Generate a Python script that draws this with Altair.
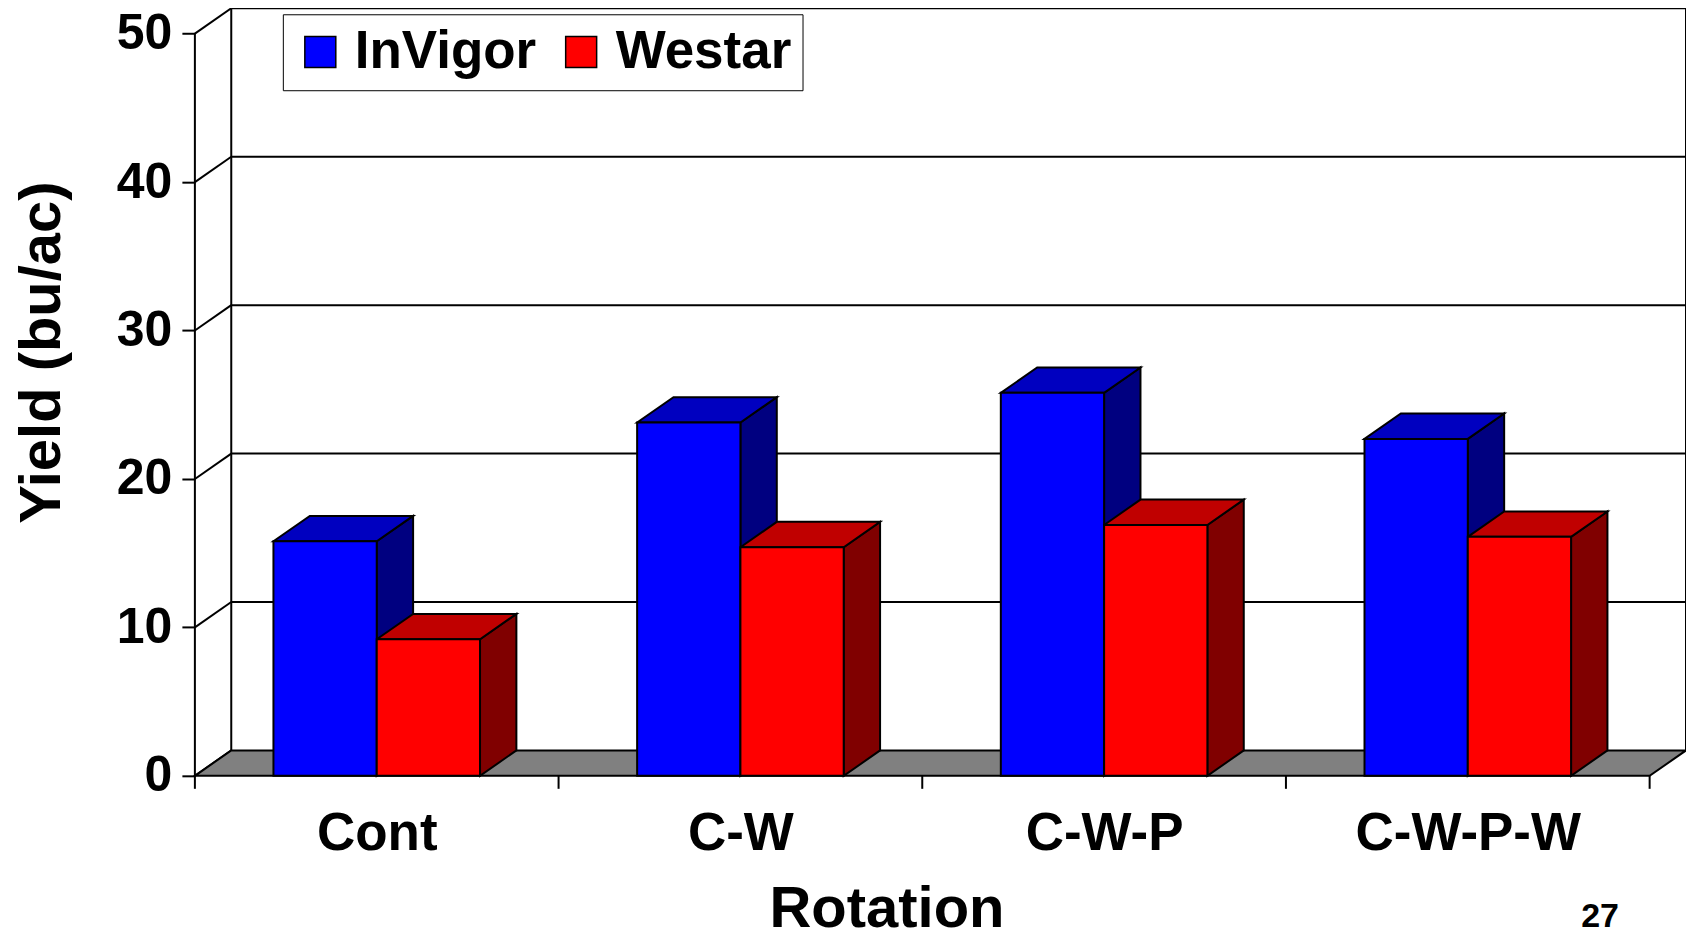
import json
import altair as alt
import pandas as pd

# ---------------- data ----------------
rotations = ["Cont", "C-W", "C-W-P", "C-W-P-W"]
series_names = ["InVigor", "Westar"]
invigor = [15.8, 23.8, 25.8, 22.7]
westar = [9.2, 15.4, 16.9, 16.1]
y_ticks = [0, 10, 20, 30, 40, 50]
group_edges = [0, 1, 2, 3, 4]

front_colors = ["#0000FF", "#FF0000"]
top_colors = ["#0000C0", "#C00000"]
side_colors = ["#000080", "#800000"]

# ---------------- 3-D geometry (in data units) ----------------
DX = 0.1      # depth offset along x (group units)
DY = 1.71     # depth offset along y (bu/ac)
BAR_W = 0.284
N = len(rotations)
YTOP = 50
XMAX = N + DX
YMAX = YTOP + DY
FONT = "Liberation Sans"

W, H = 1492, 768

front_rows, top_rows, side_rows = [], [], []
for gi, rot in enumerate(rotations):
    for si, (name, vals) in enumerate(zip(series_names, [invigor, westar])):
        v = vals[gi]
        x0 = gi + 0.5 - BAR_W + si * BAR_W
        x1 = x0 + BAR_W
        bar_id = f"{rot}|{name}"
        front_rows.append(dict(x=x0, x2=x1, y=0, y2=v, series=name))
        for xx, up, lo in [(x0, v, v), (x0 + DX, v + DY, v),
                           (x1, v + DY, v), (x1 + DX, v + DY, v + DY)]:
            top_rows.append(dict(bar=bar_id, x=xx, y=up, y2=lo, fill=top_colors[si]))
        for xx, up, lo in [(x1, v, 0), (x1 + DX, v + DY, DY)]:
            side_rows.append(dict(bar=bar_id, x=xx, y=up, y2=lo, fill=side_colors[si]))

front_df = pd.DataFrame(front_rows)
top_df = pd.DataFrame(top_rows)
side_df = pd.DataFrame(side_rows)

floor_df = pd.DataFrame({
    "x": [0, DX, N, N + DX],
    "y": [0, DY, DY, DY],
    "y2": [0, 0, 0, DY],
})

# back-wall gridlines
hl_df = pd.DataFrame({
    "x": [DX] * 5,
    "x2": [XMAX] * 5,
    "y": [v + DY for v in y_ticks[1:]],
})
# left-wall diagonals
diag_df = pd.DataFrame({
    "x": [0] * len(y_ticks),
    "x2": [DX] * len(y_ticks),
    "y": y_ticks,
    "y2": [v + DY for v in y_ticks],
})
# vertical edges
vl_df = pd.DataFrame({
    "x": [0, DX, XMAX],
    "y": [0, DY, DY],
    "y2": [YTOP, YMAX, YMAX],
})
edge_df = pd.DataFrame({"x": group_edges})

xs = alt.Scale(domain=[0, XMAX], nice=False, zero=False)
ys = alt.Scale(domain=[0, YMAX], nice=False, zero=False)

label_expr = f"{json.dumps(rotations)}[floor(datum.value)]"

x_axis = alt.Axis(
    values=[i + 0.5 for i in range(N)], labelExpr=label_expr,
    domain=False, ticks=False, tickSize=0, grid=False,
    labelFontSize=53, labelFontWeight="bold", labelColor="black",
    labelPadding=32, labelFlush=False, labelOverlap=False, labelLimit=0,
    title="Rotation", titleFontSize=58, titleFontWeight="bold", titleColor="black",
    titleX=692, titleY=151, titleAlign="center", titleBaseline="alphabetic",
)
y_axis = alt.Axis(
    values=y_ticks, domain=False, grid=False, ticks=True, tickSize=13,
    tickWidth=2, tickColor="black",
    labelFontSize=50, labelFontWeight="bold", labelColor="black", labelPadding=10,
    title="Yield (bu/ac)", titleFontSize=58, titleFontWeight="bold", titleColor="black",
    titleAngle=270, titleX=-135, titleY=344, titleAlign="center",
    titleBaseline="alphabetic",
)


def X(field):
    return alt.X(field, scale=xs, axis=x_axis, title="Rotation")


def Y(field):
    return alt.Y(field, scale=ys, axis=y_axis, stack=None, title="Yield (bu/ac)")


LW = 2

hlines = alt.Chart(hl_df).mark_rule(color="black", strokeWidth=LW).encode(
    x=X("x:Q"), x2="x2:Q", y=Y("y:Q"),
)
diags = alt.Chart(diag_df).mark_rule(color="black", strokeWidth=LW).encode(
    x=X("x:Q"), x2="x2:Q", y=Y("y:Q"), y2="y2:Q",
)
vlines = alt.Chart(vl_df).mark_rule(color="black", strokeWidth=LW).encode(
    x=X("x:Q"), y=Y("y:Q"), y2="y2:Q",
)
floor = alt.Chart(floor_df).mark_area(
    fill="#808080", stroke="black", strokeWidth=LW, opacity=1
).encode(
    x=X("x:Q"), y=Y("y:Q"), y2="y2:Q",
)
sides = alt.Chart(side_df).mark_area(stroke="black", strokeWidth=LW, opacity=1).encode(
    x=X("x:Q"), y=Y("y:Q"), y2="y2:Q",
    fill=alt.Fill("fill:N", scale=None),
    detail="bar:N",
)
tops = alt.Chart(top_df).mark_area(stroke="black", strokeWidth=LW, opacity=1).encode(
    x=X("x:Q"), y=Y("y:Q"), y2="y2:Q",
    fill=alt.Fill("fill:N", scale=None),
    detail="bar:N",
)
fronts = alt.Chart(front_df).mark_rect(stroke="black", strokeWidth=LW, opacity=1).encode(
    x=X("x:Q"), x2="x2:Q",
    y=Y("y:Q"), y2="y2:Q",
    color=alt.Color(
        "series:N",
        scale=alt.Scale(domain=series_names, range=front_colors),
        legend=alt.Legend(
            title=None, orient="none", legendX=88, legendY=6, direction="horizontal",
            symbolType="square", symbolSize=960, symbolStrokeColor="black",
            symbolStrokeWidth=1.5, symbolOpacity=1,
            labelFont=FONT, labelFontWeight="bold", labelFontSize=53, labelColor="black",
            labelOffset=8, labelLimit=0, columnPadding=18, padding=11,
            fillColor="white", strokeColor="black",
        ),
    ),
)
ticks = alt.Chart(edge_df).mark_rule(color="black", strokeWidth=LW).encode(
    x=X("x:Q"),
    y=alt.value(H), y2=alt.value(H + 13),
)
page_no = alt.Chart(pd.DataFrame({"t": ["27"]})).mark_text(
    font=FONT, fontWeight="bold", fontSize=34, color="black",
    align="center", baseline="alphabetic",
).encode(text="t:N", x=alt.value(1406), y=alt.value(919))

chart = alt.layer(
    hlines, vlines, diags, floor, sides, tops, fronts, ticks, page_no
).properties(
    width=W, height=H,
    padding={"left": 187, "top": 0, "right": 0, "bottom": 158},
    autosize=alt.AutoSizeParams(type="none"),
    background="white",
).configure_view(stroke=None).configure_axis(
    labelFont=FONT, titleFont=FONT,
)

chart.save("out.html", embed_options={"renderer": "svg", "actions": False})
